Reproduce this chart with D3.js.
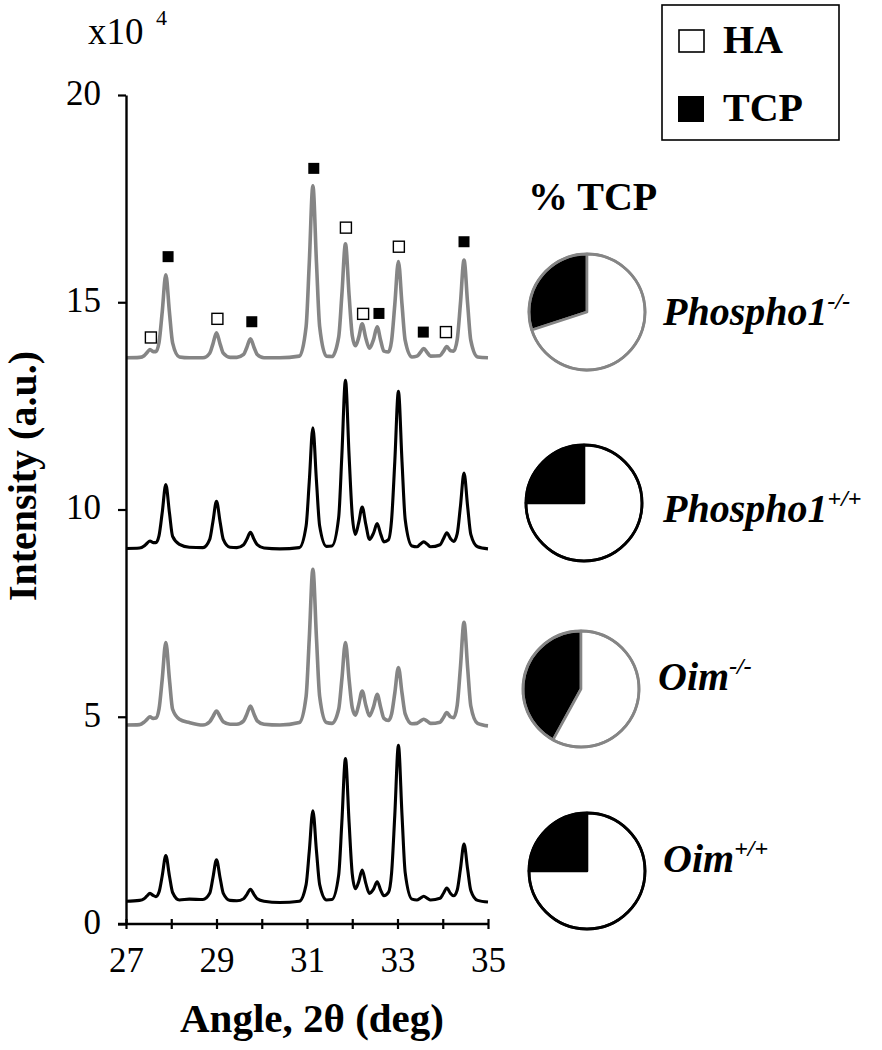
<!DOCTYPE html>
<html><head><meta charset="utf-8">
<script src="https://cdn.jsdelivr.net/npm/d3@7"></script>
<style>
body{margin:0;background:#fff}
svg{display:block}
text{font-family:"Liberation Serif","Times New Roman",Times,serif}
</style>
</head><body>
<svg id="c" width="882" height="1050"></svg>
<script>
// ---------- DATA ----------
const angles = [
 27.00, 27.30, 27.40, 27.46, 27.53, 27.60, 27.66, 27.73, 27.80, 27.88,
 27.96, 28.03, 28.18, 28.40, 28.70, 28.85, 28.92, 29.00, 29.08, 29.15,
 29.30, 29.45, 29.60, 29.67, 29.75, 29.83, 29.90, 30.05, 30.40, 30.83,
 30.98, 31.05, 31.13, 31.21, 31.28, 31.43, 31.55, 31.70, 31.77, 31.85,
 31.93, 32.00, 32.07, 32.14, 32.22, 32.30, 32.38, 32.47, 32.55, 32.63,
 32.70, 32.80, 32.87, 32.94, 33.02, 33.10, 33.17, 33.32, 33.43, 33.50,
 33.58, 33.66, 33.73, 33.94, 34.01, 34.09, 34.17, 34.24, 34.32, 34.39,
 34.47, 34.55, 34.62, 34.77, 35.00];

// intensities (x10^4, offset stacked as in the figure)
const phospho1KO = [
 13.66, 13.67, 13.71, 13.78, 13.86, 13.81, 13.81, 14.03, 14.76, 15.66,
 14.76, 14.02, 13.68, 13.66, 13.66, 13.77, 13.99, 14.26, 13.99, 13.77,
 13.67, 13.67, 13.74, 13.91, 14.12, 13.91, 13.74, 13.66, 13.66, 13.70,
 14.41, 15.94, 17.81, 15.94, 14.41, 13.70, 13.69, 14.16, 15.17, 16.41,
 15.17, 14.20, 13.95, 14.14, 14.48, 14.13, 13.89, 14.10, 14.41, 14.07,
 13.82, 13.80, 14.08, 14.94, 15.98, 14.94, 14.08, 13.68, 13.70, 13.78,
 13.88, 13.78, 13.70, 13.71, 13.81, 13.93, 13.83, 13.82, 14.10, 14.96,
 16.02, 14.96, 14.08, 13.68, 13.66];
const phospho1WT = [
 9.06, 9.07, 9.12, 9.18, 9.24, 9.20, 9.20, 9.37, 9.92, 10.60,
 9.92, 9.35, 9.16, 9.09, 9.08, 9.28, 9.70, 10.20, 9.70, 9.28,
 9.09, 9.08, 9.15, 9.28, 9.45, 9.28, 9.15, 9.07, 9.05, 9.08,
 9.60, 10.67, 11.97, 10.67, 9.60, 9.11, 9.12, 9.81, 11.30, 13.12,
 11.30, 9.86, 9.40, 9.67, 10.06, 9.64, 9.28, 9.43, 9.66, 9.40,
 9.22, 9.27, 9.76, 11.15, 12.85, 11.15, 9.76, 9.12, 9.10, 9.16,
 9.22, 9.16, 9.10, 9.15, 9.28, 9.44, 9.30, 9.23, 9.42, 10.07,
 10.88, 10.07, 9.40, 9.10, 9.05];
const oimKO = [
 4.80, 4.81, 4.87, 4.93, 5.00, 4.96, 4.97, 5.19, 5.90, 6.79,
 5.90, 5.18, 4.94, 4.86, 4.80, 4.88, 5.00, 5.14, 5.00, 4.88,
 4.82, 4.82, 4.90, 5.06, 5.26, 5.06, 4.90, 4.82, 4.80, 4.86,
 5.49, 6.88, 8.56, 6.88, 5.49, 4.86, 4.84, 5.18, 5.90, 6.79,
 5.90, 5.22, 5.04, 5.28, 5.62, 5.28, 5.02, 5.24, 5.54, 5.22,
 4.96, 4.91, 5.07, 5.57, 6.19, 5.57, 5.07, 4.83, 4.84, 4.89,
 4.94, 4.89, 4.84, 4.87, 4.97, 5.10, 5.00, 4.98, 5.28, 6.18,
 7.28, 6.18, 5.26, 4.84, 4.78];
const oimWT = [
 0.55, 0.57, 0.61, 0.67, 0.74, 0.69, 0.66, 0.77, 1.16, 1.65,
 1.16, 0.76, 0.58, 0.60, 0.59, 0.74, 1.11, 1.55, 1.11, 0.74,
 0.57, 0.56, 0.61, 0.71, 0.84, 0.71, 0.61, 0.55, 0.52, 0.55,
 0.95, 1.75, 2.73, 1.75, 0.95, 0.58, 0.59, 1.18, 2.45, 3.99,
 2.45, 1.21, 0.85, 1.01, 1.30, 0.98, 0.74, 0.84, 1.02, 0.81,
 0.68, 0.76, 1.24, 2.62, 4.31, 2.62, 1.24, 0.60, 0.58, 0.62,
 0.67, 0.62, 0.58, 0.62, 0.73, 0.87, 0.74, 0.68, 0.82, 1.32,
 1.93, 1.32, 0.81, 0.57, 0.53];

// phase markers above the Phospho1-/- pattern
const markerAngles = [27.55, 27.93, 29.02, 29.78, 31.15, 31.86, 32.24, 32.59, 33.03, 33.57, 34.07, 34.47];
const markerLevels = [14.15, 16.10, 14.60, 14.53, 18.23, 16.80, 14.72, 14.73, 16.34, 14.28, 14.28, 16.46];
const markerPhases = ["HA","TCP","HA","TCP","TCP","HA","HA","TCP","HA","TCP","HA","TCP"];

// samples / pies
const sampleNames = ["Phospho1", "Phospho1", "Oim", "Oim"];
const sampleGenotypes = ["-/-", "+/+", "-/-", "+/+"];
const tcpPercent = [30, 25, 42, 25];

// axis ticks
const yTicks = [0, 5, 10, 15, 20];
const xTicks = [27, 28, 29, 30, 31, 32, 33, 34, 35];
const xTickLabels = ["27", "", "29", "", "31", "", "33", "", "35"];

// ---------- DRAW ----------
const GRAY = "#858585";
const FONT = '"Liberation Serif","Times New Roman",Times,serif';
const svg = d3.select("#c");
const x = d3.scaleLinear().domain([27, 35]).range([126, 488]);
const y = d3.scaleLinear().domain([0, 20]).range([924, 95]);

const series = [
  {values: phospho1KO, color: GRAY, width: 3.6},
  {values: phospho1WT, color: "#000", width: 3.1},
  {values: oimKO, color: GRAY, width: 3.6},
  {values: oimWT, color: "#000", width: 3.1}
];
const line = d3.line()
  .x((d, i) => x(angles[i]))
  .y(d => y(d))
  .curve(d3.curveMonotoneX);

svg.append("g").selectAll("path").data(series).join("path")
  .attr("d", d => line(d.values))
  .attr("fill", "none")
  .attr("stroke", d => d.color)
  .attr("stroke-width", d => d.width)
  .attr("stroke-linejoin", "round");

// markers
const ms = 11;
svg.append("g").selectAll("rect").data(markerAngles).join("rect")
  .attr("x", (d) => x(d) - ms / 2)
  .attr("y", (d, i) => y(markerLevels[i]) - ms / 2)
  .attr("width", ms).attr("height", ms)
  .attr("fill", (d, i) => markerPhases[i] === "TCP" ? "#000" : "#fff")
  .attr("stroke", "#000")
  .attr("stroke-width", (d, i) => markerPhases[i] === "TCP" ? 0 : 1.4);

// y axis
const gy = svg.append("g").attr("transform", "translate(126,0)")
  .call(d3.axisLeft(y).tickValues(yTicks).tickSize(8).tickPadding(17).tickSizeOuter(0));
gy.attr("font-family", FONT).attr("font-size", 35);
gy.select(".domain").attr("stroke-width", 2.4);
gy.selectAll(".tick line").attr("stroke-width", 2.2);
gy.selectAll(".tick text").attr("fill", "#000").attr("dy", "0.27em");

// x axis
const gx = svg.append("g").attr("transform", "translate(0,924)")
  .call(d3.axisBottom(x).tickValues(xTicks).tickFormat((d, i) => xTickLabels[i]).tickSizeOuter(0));
gx.attr("font-family", FONT).attr("font-size", 35);
gx.select(".domain").remove();
gx.selectAll(".tick line").attr("y1", -5).attr("y2", 5).attr("stroke-width", 2.2);
gx.selectAll(".tick text").attr("y", 48).attr("dy", 0).attr("fill", "#000");
gx.append("line").attr("x1", 118).attr("x2", 489).attr("y1", 0).attr("y2", 0)
  .attr("stroke", "#000").attr("stroke-width", 2.4);

// axis titles
svg.append("text").attr("transform", "translate(36,476) rotate(-90)")
  .attr("text-anchor", "middle").attr("font-weight", "bold").attr("font-size", 40)
  .text("Intensity (a.u.)");
svg.append("text").attr("x", 312).attr("y", 1032)
  .attr("text-anchor", "middle").attr("font-weight", "bold").attr("font-size", 41)
  .text("Angle, 2θ (deg)");

// multiplier
svg.append("text").attr("x", 88).attr("y", 44).attr("font-size", 37).text("x10");
svg.append("text").attr("x", 156).attr("y", 25).attr("font-size", 22).text("4");

// legend
const lg = svg.append("g");
lg.append("rect").attr("x", 662).attr("y", 5).attr("width", 177).attr("height", 135)
  .attr("fill", "#fff").attr("stroke", "#000").attr("stroke-width", 1.6);
lg.append("rect").attr("x", 679).attr("y", 30).attr("width", 25).attr("height", 22)
  .attr("fill", "#fff").attr("stroke", "#000").attr("stroke-width", 1.6);
lg.append("rect").attr("x", 678).attr("y", 96).attr("width", 26).attr("height", 26)
  .attr("fill", "#000");
lg.append("text").attr("x", 723).attr("y", 53).attr("font-weight", "bold").attr("font-size", 40).text("HA");
lg.append("text").attr("x", 723).attr("y", 121).attr("font-weight", "bold").attr("font-size", 40).text("TCP");

// % TCP title
svg.append("text").attr("x", 528).attr("y", 210).attr("font-weight", "bold").attr("font-size", 40).text("% TCP");

// pies
const pieLayout = [
  {cx: 587, cy: 312, lx: 663, ly: 325, color: GRAY},
  {cx: 584, cy: 503, lx: 663, ly: 522, color: "#000"},
  {cx: 581, cy: 689, lx: 658, ly: 690, color: GRAY},
  {cx: 587, cy: 871, lx: 663, ly: 872, color: "#000"}
];
const R = 58;
const arc = d3.arc().innerRadius(0).outerRadius(R);
tcpPercent.forEach((p, i) => {
  const L = pieLayout[i];
  const f = p / 100;
  const pie = d3.pie().sort(null)
    .startAngle(-2 * Math.PI * f).endAngle(2 * Math.PI * (1 - f));
  const g = svg.append("g").attr("transform", `translate(${L.cx},${L.cy})`);
  g.selectAll("path").data(pie([p, 100 - p])).join("path")
    .attr("d", arc)
    .attr("fill", (d, j) => j === 0 ? "#000" : "#fff")
    .attr("stroke", L.color).attr("stroke-width", 2.6)
    .attr("stroke-linejoin", "round");
  g.append("circle").attr("r", R).attr("fill", "none")
    .attr("stroke", L.color).attr("stroke-width", 2.8);
  const t = svg.append("text").attr("x", L.lx).attr("y", L.ly)
    .attr("font-weight", "bold").attr("font-style", "italic").attr("font-size", 40);
  t.append("tspan").text(sampleNames[i]);
  t.append("tspan").attr("dy", -16).attr("font-size", 24).text(sampleGenotypes[i]);
});
</script>
</body></html>
